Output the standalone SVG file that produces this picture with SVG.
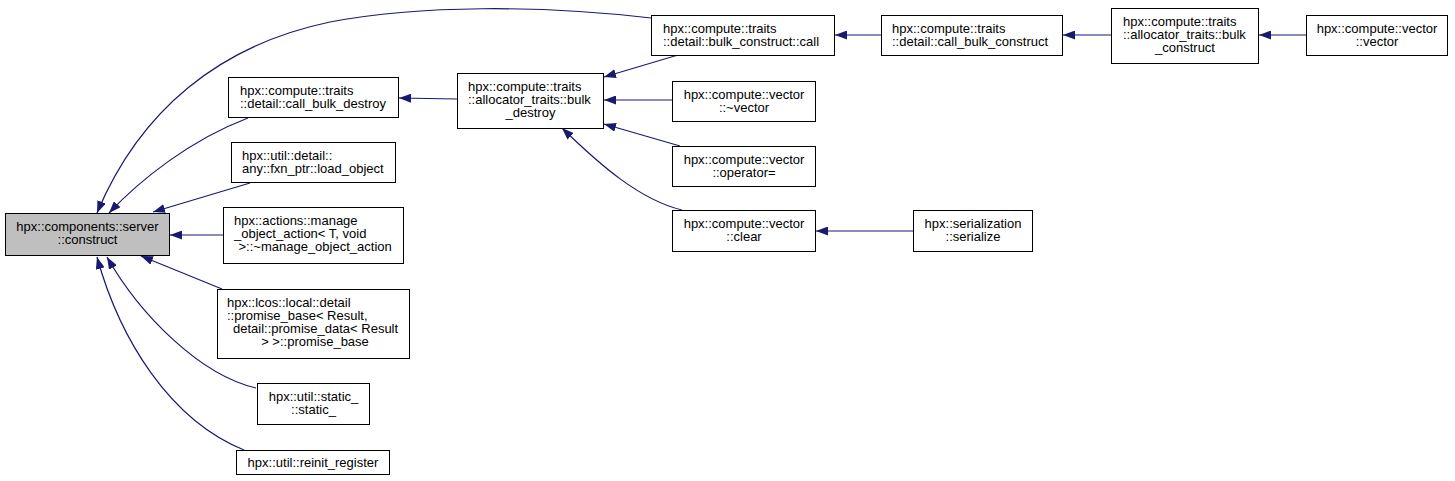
<svg xmlns="http://www.w3.org/2000/svg" width="1455" height="481" viewBox="0 0 1455 481">
<style>
.n rect{fill:#ffffff;stroke:#000000;stroke-width:1}
.n.root rect{fill:#bfbfbf}
.n text{font-family:"Liberation Sans",Arial,sans-serif;font-size:13px;fill:#000000}
.c{text-anchor:middle}
.e path{fill:none;stroke:#191970;stroke-width:1.2;marker-start:url(#ah)}
</style>
<defs>
<marker id="ah" viewBox="0 0 12 9" refX="12" refY="4.5" markerWidth="12" markerHeight="9" markerUnits="userSpaceOnUse" orient="auto-start-reverse">
<polygon points="0,0 12,4.5 0,9" fill="#191970"/>
</marker>
</defs>
<rect width="1455" height="481" fill="#ffffff"/>
<g id="edges" class="e">
<path d="M97,213 C140,110 220,45 330,22 C420,5 540,5 651,18"/>
<path d="M109,213 C140,180 190,140 248,118"/>
<path d="M153,212 L250,183"/>
<path d="M170,235 L223,235"/>
<path d="M141,256 L222,289"/>
<path d="M107,257 C140,315 200,375 256,388"/>
<path d="M97,257 C120,340 170,420 244,450"/>
<path d="M399,98 L457,99"/>
<path d="M604,77 L678,55"/>
<path d="M604,100 L672,100"/>
<path d="M604,124 L680,146"/>
<path d="M562,128 C600,165 640,200 682,210"/>
<path d="M835,35 L881,35"/>
<path d="M1063,35 L1111,35"/>
<path d="M1259,35 L1306,35"/>
<path d="M816,231 L913,231"/>
</g>
<g id="construct" class="n root">
<rect x="5.5" y="213.5" width="164" height="42"/>
<text class="c" x="87.5" y="231">hpx::components::server</text>
<text class="c" x="87.5" y="244">::construct</text>
</g>
<g id="call_bulk_destroy" class="n">
<rect x="228.5" y="77.5" width="170" height="40"/>
<text x="240" y="94.5">hpx::compute::traits</text>
<text x="240" y="107.5">::detail::call_bulk_destroy</text>
</g>
<g id="load_object" class="n">
<rect x="231.5" y="142.5" width="164" height="40"/>
<text x="242" y="159.5">hpx::util::detail::</text>
<text x="242" y="172.5">any::fxn_ptr::load_object</text>
</g>
<g id="manage_object_action" class="n">
<rect x="223.5" y="207.5" width="180" height="56"/>
<text x="234" y="225">hpx::actions::manage</text>
<text x="234" y="238">_object_action&lt; T, void</text>
<text x="238.5" y="251">&gt;::~manage_object_action</text>
</g>
<g id="promise_base" class="n">
<rect x="217.5" y="289.5" width="192" height="69"/>
<text x="227" y="307">hpx::lcos::local::detail</text>
<text x="227" y="320">::promise_base&lt; Result,</text>
<text x="233" y="333">detail::promise_data&lt; Result</text>
<text class="c" x="315" y="346">&gt; &gt;::promise_base</text>
</g>
<g id="static_" class="n">
<rect x="257.5" y="383.5" width="112" height="41"/>
<text class="c" x="313.5" y="401">hpx::util::static_</text>
<text class="c" x="313.5" y="414">::static_</text>
</g>
<g id="reinit_register" class="n">
<rect x="236.5" y="450.5" width="153" height="24"/>
<text class="c" x="313" y="467">hpx::util::reinit_register</text>
</g>
<g id="bulk_destroy" class="n">
<rect x="457.5" y="73.5" width="146" height="55"/>
<text x="468" y="91">hpx::compute::traits</text>
<text x="468" y="104">::allocator_traits::bulk</text>
<text class="c" x="530.5" y="117">_destroy</text>
</g>
<g id="bulk_construct_call" class="n">
<rect x="651.5" y="15.5" width="183" height="40"/>
<text x="663" y="32.5">hpx::compute::traits</text>
<text x="663" y="45.5">::detail::bulk_construct::call</text>
</g>
<g id="vector_dtor" class="n">
<rect x="672.5" y="81.5" width="143" height="40"/>
<text class="c" x="744" y="98.5">hpx::compute::vector</text>
<text class="c" x="744" y="111.5">::~vector</text>
</g>
<g id="vector_assign" class="n">
<rect x="672.5" y="146.5" width="143" height="40"/>
<text class="c" x="744" y="163.5">hpx::compute::vector</text>
<text class="c" x="744" y="176.5">::operator=</text>
</g>
<g id="vector_clear" class="n">
<rect x="672.5" y="210.5" width="143" height="41"/>
<text class="c" x="744" y="228">hpx::compute::vector</text>
<text class="c" x="744" y="241">::clear</text>
</g>
<g id="serialize" class="n">
<rect x="913.5" y="210.5" width="119" height="41"/>
<text class="c" x="973" y="228">hpx::serialization</text>
<text class="c" x="973" y="241">::serialize</text>
</g>
<g id="call_bulk_construct" class="n">
<rect x="881.5" y="15.5" width="181" height="40"/>
<text x="892" y="32.5">hpx::compute::traits</text>
<text x="892" y="45.5">::detail::call_bulk_construct</text>
</g>
<g id="bulk_construct" class="n">
<rect x="1111.5" y="8.5" width="147" height="55"/>
<text x="1123" y="26">hpx::compute::traits</text>
<text x="1123" y="39">::allocator_traits::bulk</text>
<text class="c" x="1185" y="52">_construct</text>
</g>
<g id="vector_ctor" class="n">
<rect x="1306.5" y="15.5" width="141" height="40"/>
<text class="c" x="1377" y="32.5">hpx::compute::vector</text>
<text class="c" x="1377" y="45.5">::vector</text>
</g>
</svg>
